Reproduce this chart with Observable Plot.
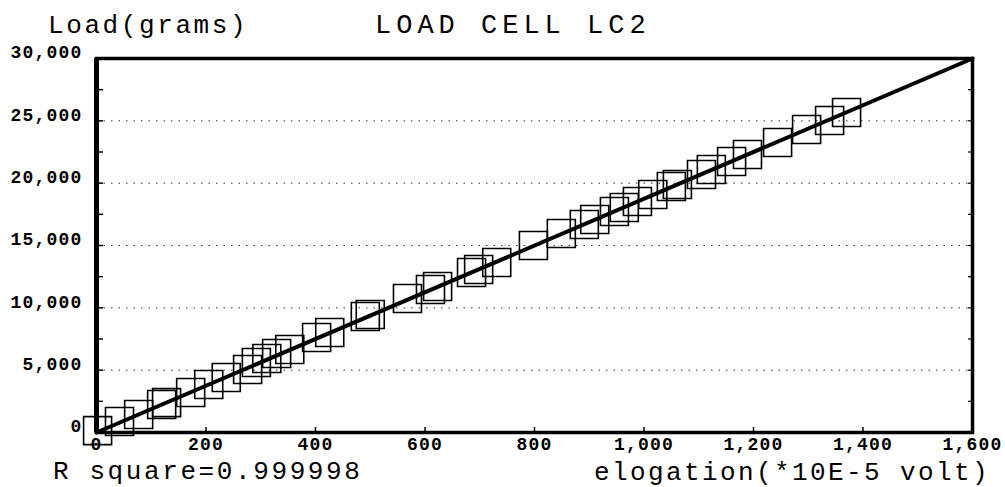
<!DOCTYPE html>
<html>
<head>
<meta charset="utf-8">
<script src="https://cdn.jsdelivr.net/npm/d3@7"></script>
<script src="https://cdn.jsdelivr.net/npm/@observablehq/plot@0.6"></script>
<style>
  html, body { margin: 0; padding: 0; background: #fff; }
  #wrap { width: 1005px; height: 487px; background: #fff; overflow: hidden; }
  #header, #footer { position: relative; width: 1005px; }
  #header { height: 40px; }
  #footer { height: 32px; }
  .lbl { position: absolute; font-family: "Liberation Mono", monospace; color: #000; white-space: nowrap; line-height: 20px; }
  #ylab { left: 48px; top: 16px; font-size: 26px; letter-spacing: 2.6px; }
  #title { left: 375px; top: 16px; font-size: 27px; letter-spacing: 5px; }
  #r2 { left: 53px; top: 7px; font-size: 26px; letter-spacing: 2.6px; }
  #xlab { left: 594px; top: 8px; font-size: 26px; letter-spacing: 2.4px; }
  #chart svg text { letter-spacing: 1.2px; font-weight: bold; }
</style>
</head>
<body>
<div id="wrap">
  <div id="header">
    <div class="lbl" id="ylab">Load(grams)</div>
    <div class="lbl" id="title">LOAD CELL LC2</div>
  </div>
  <div id="chart"></div>
  <div id="footer">
    <div class="lbl" id="r2">R square=0.999998</div>
    <div class="lbl" id="xlab">elogation(*10E-5 volt)</div>
  </div>
</div>
<script>
// Measured points (elongation in 1e-5 V, load in grams)
const elongation = [2, 42, 77, 119, 128, 172, 205, 237, 276, 292, 311, 329, 353, 402, 426, 491, 500, 568, 610, 623, 685, 698, 731, 798, 849, 891, 910, 946, 964, 988, 1016, 1050, 1061, 1105, 1123, 1160, 1189, 1244, 1297, 1339, 1370];
const load = [150, 880, 1440, 2250, 2400, 3210, 3850, 4410, 5050, 5610, 5940, 6340, 6660, 7620, 8020, 9300, 9470, 10750, 11470, 11710, 12830, 13070, 13640, 15000, 15960, 16680, 17090, 17730, 18050, 18530, 19090, 19730, 19890, 20690, 21100, 21740, 22300, 23260, 24300, 25030, 25670];

// Regression line end points
const fitX = [0, 1600];
const fitY = [0, 30000];

// Axis ticks
const xTicks = [0, 200, 400, 600, 800, 1000, 1200, 1400, 1600];
const yTicks = [0, 5000, 10000, 15000, 20000, 25000, 30000];
const gridY = [5000, 10000, 15000, 20000, 25000];
const minorY = [2500, 5000, 7500, 10000, 12500, 15000, 17500, 20000, 22500, 25000, 27500];

const points = elongation.map((x, i) => ({x, y: load[i]}));
const fit = fitX.map((x, i) => ({x, y: fitY[i]}));

const W = 1005, H = 415;
const mL = 96, mR = 33, mT = 18, mB = 23;
const innerW = W - mL - mR, innerH = H - mT - mB;
const fmt = d3.format(",");

const chart = Plot.plot({
  width: W,
  height: H,
  marginLeft: mL,
  marginRight: mR,
  marginTop: mT,
  marginBottom: mB,
  style: {fontFamily: "'Liberation Mono', monospace", background: "#fff", color: "#000", overflow: "visible"},
  x: {domain: [0, 1600], axis: null},
  y: {domain: [0, 30000], axis: null},
  marks: [
    Plot.ruleY(gridY, {stroke: "#333", strokeWidth: 1, strokeDasharray: "1.5,6"}),
    Plot.tickY(minorY, {y: d => d, stroke: "#000", strokeWidth: 1.5, insetRight: innerW - 7}),
    Plot.tickY(minorY, {y: d => d, stroke: "#000", strokeWidth: 1.2, insetLeft: innerW - 4}),
    Plot.tickX(xTicks, {x: d => d, stroke: "#000", strokeWidth: 1.5, insetTop: innerH - 5}),
    Plot.dot(points, {x: "x", y: "y", symbol: "square", r: 15.8, stroke: "#000", strokeWidth: 1.6, fill: "none"}),
    Plot.line(fit, {x: "x", y: "y", stroke: "#000", strokeWidth: 4}),
    Plot.frame({stroke: "#000", strokeWidth: 3.5}),
    Plot.ruleX([0], {stroke: "#000", strokeWidth: 5}),
    Plot.axisY(yTicks, {anchor: "left", tickSize: 0, tickPadding: 14, dy: -6, fontSize: 18, fontWeight: "bold", tickFormat: fmt, label: null}),
    Plot.axisX(xTicks, {anchor: "bottom", tickSize: 0, tickPadding: 5, fontSize: 18, fontWeight: "bold", tickFormat: fmt, label: null})
  ]
});
document.getElementById("chart").appendChild(chart);
</script>
</body>
</html>
